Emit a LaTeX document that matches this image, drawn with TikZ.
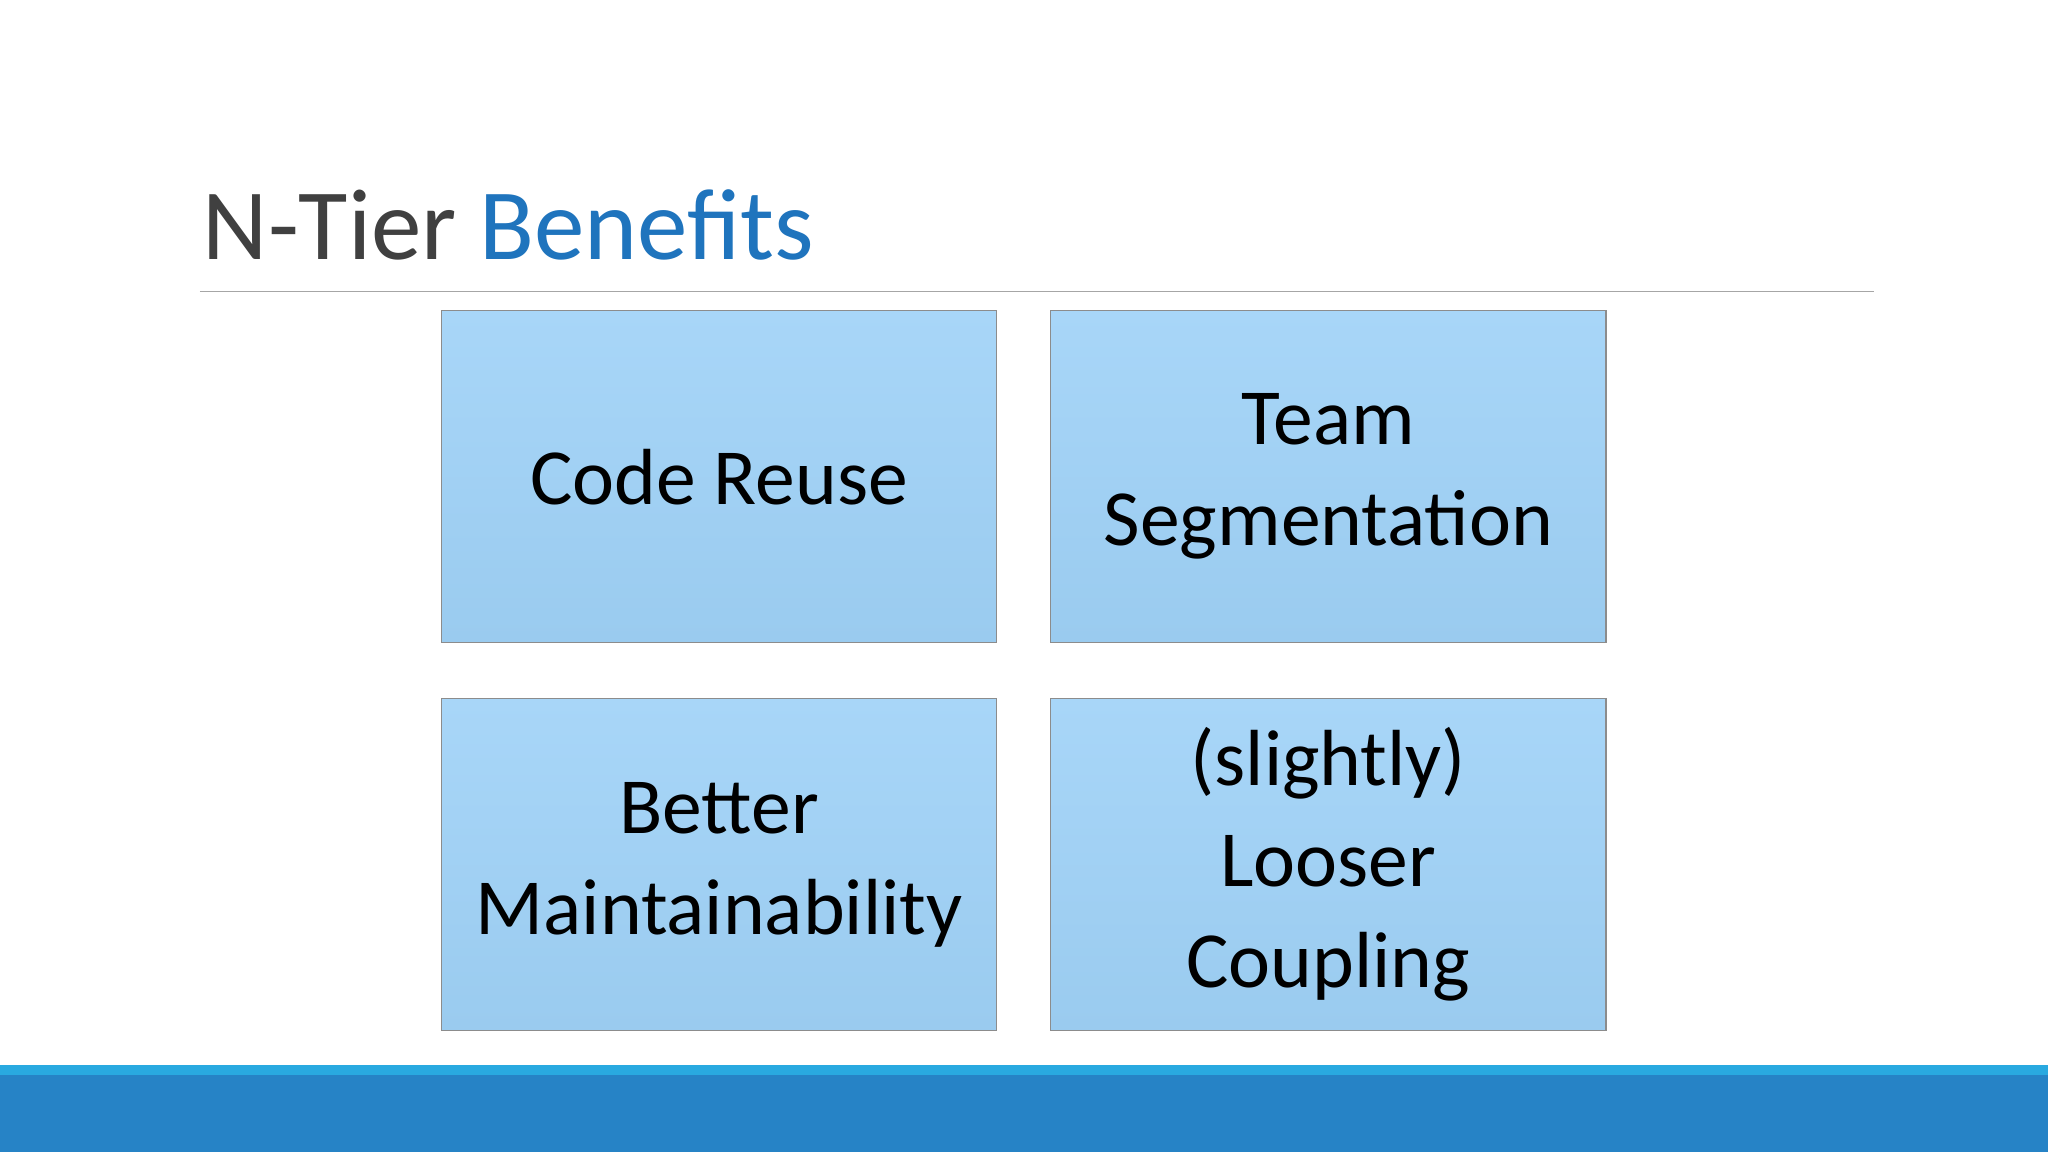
\documentclass[tikz,border=0pt]{standalone}
\usepackage{fontspec}
\setmainfont{Carlito}
\begin{document}
\begin{tikzpicture}[x=0.03cm,y=-0.03cm,
  box/.style={draw=black!45,line width=0.8pt,top color=boxA,bottom color=boxB,minimum width=425*0.03cm,minimum height=254*0.03cm,align=center,font=\fontsize{52}{66}\selectfont,inner sep=0pt},
]
\definecolor{boxA}{HTML}{A8D6F8}
\definecolor{boxB}{HTML}{9ACBEF}
\definecolor{ttlblue}{HTML}{1F74BD}
\useasboundingbox (0,0) rectangle (1568,882);
\fill[white] (0,0) rectangle (1568,882);
\node[anchor=base west,inner sep=0pt,font=\fontsize{66}{70}\selectfont,text=black!75] (title) at (155,199) {N-Tier \textcolor{ttlblue}{Benefits}};
\draw[black!35,line width=0.8pt] (153,223) coordinate (l1) -- (1435,223) coordinate (l2);
\node[box] (a) at (550.5,365) {Code Reuse};
\node[box] (b) at (1017,365) {Team\\Segmentation};
\node[box] (c) at (550.5,662) {Better\\Maintainability};
\node[box] (d) at (1017,662) {(slightly)\\Looser\\Coupling};
\fill[fill={rgb,255:red,41;green,169;blue,224}] (0,815) rectangle (1568,823);
\fill[fill={rgb,255:red,38;green,131;blue,198}] (0,823) rectangle (1568,882);
\end{tikzpicture}
\end{document}
